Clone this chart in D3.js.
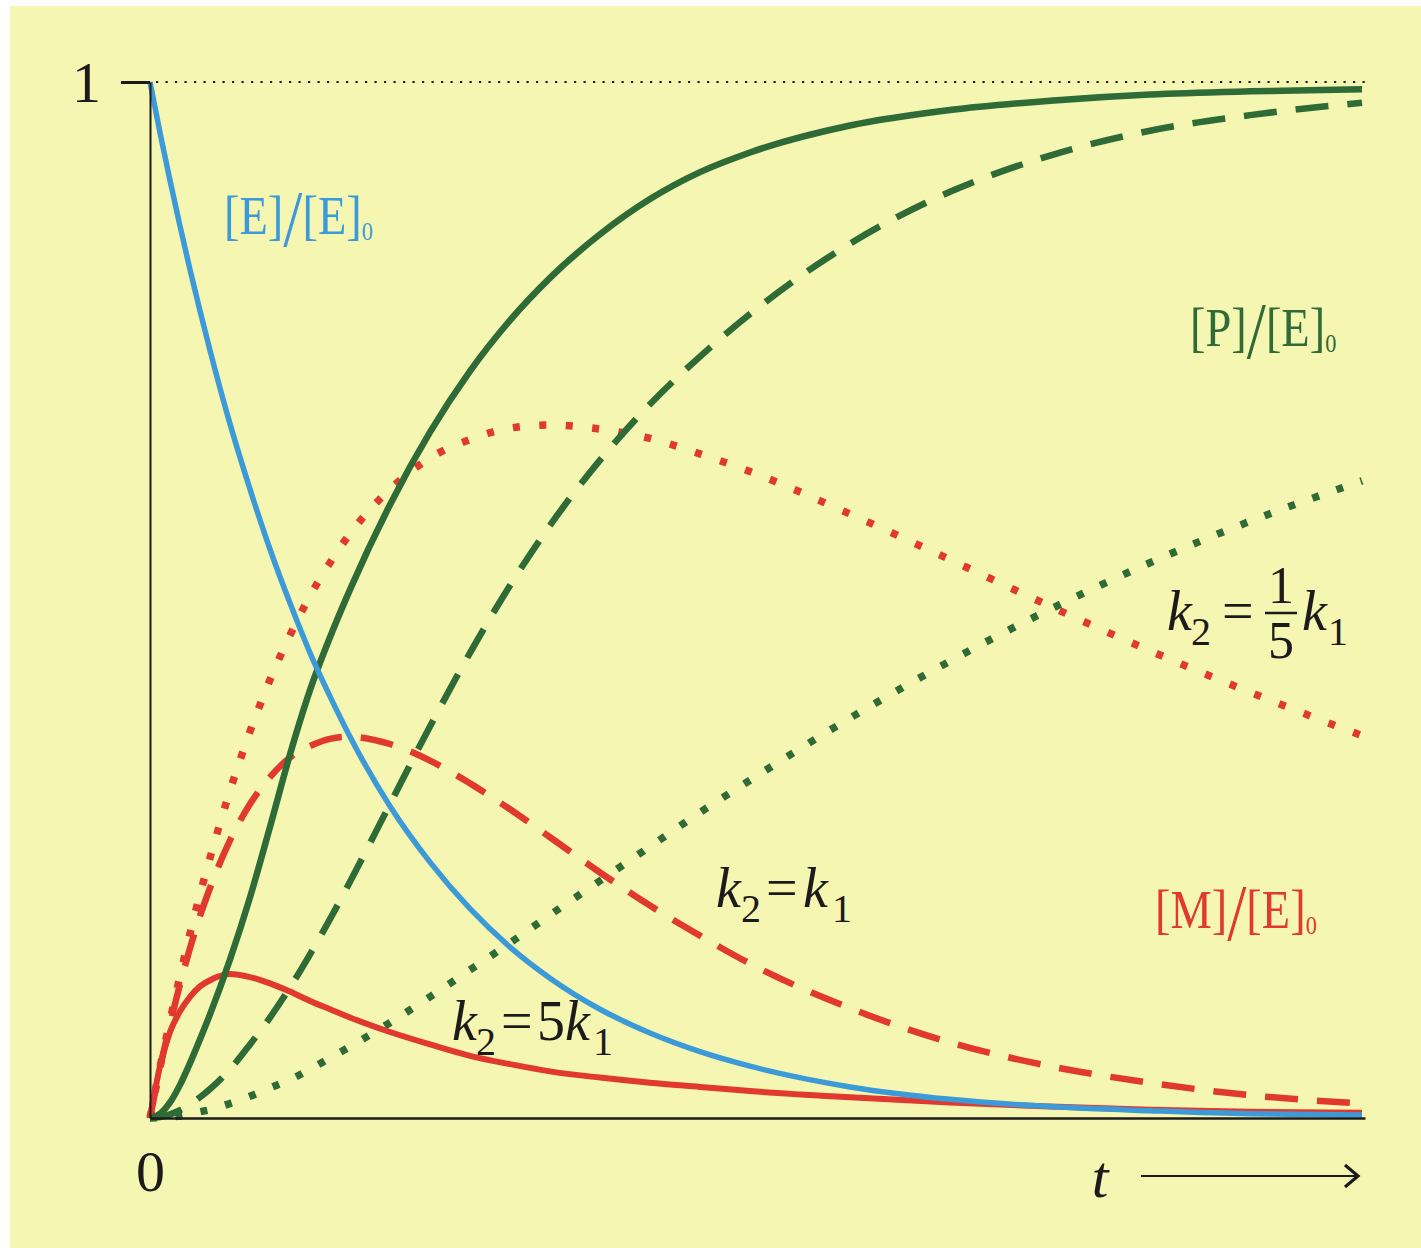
<!DOCTYPE html>
<html>
<head>
<meta charset="utf-8">
<script src="https://cdn.jsdelivr.net/npm/d3@7"></script>
<style>
  html, body { margin: 0; padding: 0; background: #ffffff; }
  svg { display: block; }
  text { font-family: "Liberation Serif", "DejaVu Serif", serif; }
</style>
</head>
<body>
<svg id="chart" width="1421" height="1248"></svg>
<script>
// Consecutive reaction E -> M -> P, concentrations relative to [E]0 over time t

const tValues   = [0, 0.05, 0.1, 0.15, 0.2, 0.25, 0.3, 0.4, 0.5, 0.6, 0.7, 0.8, 0.9, 1.0, 1.2, 1.4, 1.6, 1.8, 2.0, 2.25, 2.5, 2.75, 3.0, 3.5, 4.0, 4.5, 5.0, 5.5, 6.06];

// [E]/[E]0
const enzyme    = [1, 0.951, 0.905, 0.861, 0.819, 0.779, 0.741, 0.670, 0.607, 0.549, 0.497, 0.449, 0.407, 0.368, 0.301, 0.247, 0.202, 0.165, 0.135, 0.105, 0.082, 0.064, 0.050, 0.030, 0.018, 0.011, 0.007, 0.004, 0.003];

// [M]/[E]0 for k2 = 5k1, k2 = k1, k2 = k1/5
const midFast   = [0, 0.050, 0.083, 0.103, 0.117, 0.127, 0.133, 0.139, 0.136, 0.130, 0.122, 0.113, 0.105, 0.097, 0.083, 0.071, 0.060, 0.052, 0.045, 0.039, 0.034, 0.030, 0.026, 0.020, 0.015, 0.011, 0.008, 0.006, 0.005];
const midEqual  = [0, 0.048, 0.090, 0.129, 0.164, 0.195, 0.222, 0.268, 0.303, 0.329, 0.348, 0.359, 0.366, 0.368, 0.361, 0.345, 0.323, 0.298, 0.271, 0.237, 0.205, 0.176, 0.149, 0.106, 0.073, 0.050, 0.034, 0.022, 0.014];
const midSlow   = [0, 0.049, 0.094, 0.137, 0.178, 0.216, 0.251, 0.316, 0.373, 0.423, 0.466, 0.504, 0.536, 0.564, 0.607, 0.637, 0.655, 0.666, 0.669, 0.665, 0.656, 0.641, 0.624, 0.583, 0.539, 0.494, 0.451, 0.411, 0.369];

// [P]/[E]0 for k2 = 5k1, k2 = k1, k2 = k1/5
const prodFast  = [0, 0.004, 0.015, 0.032, 0.053, 0.076, 0.100, 0.153, 0.213, 0.281, 0.351, 0.413, 0.464, 0.510, 0.592, 0.662, 0.721, 0.770, 0.811, 0.853, 0.887, 0.913, 0.932, 0.958, 0.973, 0.982, 0.988, 0.991, 0.993];
const prodEqual = [0, 0.001, 0.0035, 0.0075, 0.013, 0.020, 0.028, 0.047, 0.071, 0.097, 0.126, 0.158, 0.192, 0.228, 0.303, 0.378, 0.449, 0.514, 0.572, 0.635, 0.689, 0.735, 0.776, 0.844, 0.894, 0.929, 0.953, 0.968, 0.980];
const prodSlow  = [0, 0.0003, 0.001, 0.002, 0.004, 0.006, 0.008, 0.014, 0.021, 0.029, 0.037, 0.047, 0.058, 0.069, 0.092, 0.117, 0.143, 0.169, 0.196, 0.229, 0.262, 0.295, 0.326, 0.386, 0.441, 0.491, 0.536, 0.576, 0.615];

const tMax = 6.075;

const BLUE = "#3c9ad8", GREEN = "#2f6b37", RED = "#e1382f", INK = "#1c1a1a";

const series = [
  { values: midSlow,   color: RED,   width: 7.5, dash: "7,19.5" },
  { values: prodSlow,  color: GREEN, width: 7.5, dash: "7,18.5" },
  { values: midEqual,  color: RED,   width: 6.5, dash: "33,19" },
  { values: prodEqual, color: GREEN, width: 6.5, dash: "33,19" },
  { values: midFast,   color: RED,   width: 6, dash: null },
  { values: prodFast,  color: GREEN, width: 6.5, dash: null },
  { values: enzyme,    color: BLUE,  width: 5.5, dash: null }
];

const svg = d3.select("#chart");

// panel background
svg.append("rect")
  .attr("x", 10).attr("y", 6)
  .attr("width", 1411).attr("height", 1242)
  .attr("fill", "#f5f6b2");

const x = d3.scaleLinear().domain([0, tMax]).range([150, 1365]);
const y = d3.scaleLinear().domain([0, 1]).range([1118, 82]);

// limit line at 1
svg.append("line")
  .attr("x1", x(0) + 6).attr("x2", 1372)
  .attr("y1", y(1)).attr("y2", y(1))
  .attr("stroke", INK).attr("stroke-width", 2.2)
  .attr("stroke-dasharray", "2.2,7.3");

// curves
const line = d3.line()
  .x((d, i) => x(tValues[i]))
  .y(d => y(d))
  .curve(d3.curveMonotoneX);

svg.append("g").selectAll("path")
  .data(series)
  .join("path")
  .attr("d", s => line(s.values))
  .attr("fill", "none")
  .attr("stroke", s => s.color)
  .attr("stroke-width", s => s.width)
  .attr("stroke-dasharray", s => s.dash)
  .attr("stroke-linecap", "butt")
  .attr("stroke-linejoin", "round");

// y axis with the single tick at 1
const yAxis = svg.append("g")
  .attr("transform", `translate(${x(0)},0)`)
  .call(d3.axisLeft(y).tickValues([1]).tickSize(29).tickSizeOuter(0).tickPadding(20).tickFormat(d3.format("d")));
yAxis.select(".domain").attr("stroke", INK).attr("stroke-width", 2);
yAxis.selectAll(".tick line").attr("stroke", INK).attr("stroke-width", 3);
yAxis.selectAll(".tick text")
  .attr("font-family", "Liberation Serif, serif")
  .attr("font-size", 58).attr("fill", INK)
  .attr("dy", "0.34em");

// x axis with the origin label
const xAxis = svg.append("g")
  .attr("transform", `translate(0,${y(0)})`)
  .call(d3.axisBottom(x).tickValues([0]).tickSize(0).tickSizeOuter(0).tickPadding(32).tickFormat(d3.format("d")));
xAxis.select(".domain").attr("stroke", INK).attr("stroke-width", 2.5);
xAxis.selectAll(".tick text")
  .attr("font-family", "Liberation Serif, serif")
  .attr("font-size", 58).attr("fill", INK);

// time label and arrow
svg.append("text")
  .attr("x", 1100).attr("y", 1197)
  .attr("text-anchor", "middle")
  .attr("font-size", 60).attr("font-style", "italic").attr("fill", INK)
  .text("t");
svg.append("line")
  .attr("x1", 1141).attr("x2", 1356)
  .attr("y1", 1176).attr("y2", 1176)
  .attr("stroke", INK).attr("stroke-width", 2.2);
svg.append("path")
  .attr("d", "M1345,1165 L1358,1176 L1345,1187")
  .attr("fill", "none").attr("stroke", INK).attr("stroke-width", 3.2)
  .attr("stroke-linejoin", "miter");

// concentration labels: [X]/[E]0
function ratioLabel(px, py, head, color) {
  const t = svg.append("text")
    .attr("transform", `translate(${px},${py}) scale(0.86,1)`)
    .attr("fill", color).attr("font-size", 54);
  t.append("tspan").text(`[${head}]`);
  t.append("tspan").attr("font-size", 80).attr("dy", 12).text("/");
  t.append("tspan").attr("font-size", 54).attr("dy", -12).text("[E]");
  t.append("tspan").attr("font-size", 26).attr("dy", 6).text("0");
}
ratioLabel(224, 234, "E", BLUE);
ratioLabel(1190, 346, "P", GREEN);
ratioLabel(1155, 928, "M", RED);

// rate-constant labels
function kLabel(parts, py) {
  const t = svg.append("text").attr("y", py).attr("fill", INK).attr("font-size", 56);
  parts.forEach(p => {
    const s = t.append("tspan").attr("x", p.x).attr("y", py + (p.sub ? 15 : 0)).text(p.s);
    if (p.it) s.attr("font-style", "italic");
    if (p.sub) s.attr("font-size", 40);
  });
}
kLabel([
  { s: "k", x: 452, it: true },
  { s: "2", x: 476, sub: true },
  { s: "=", x: 501 },
  { s: "5", x: 537 },
  { s: "k", x: 565, it: true },
  { s: "1", x: 593, sub: true }
], 1040);
kLabel([
  { s: "k", x: 716, it: true },
  { s: "2", x: 741, sub: true },
  { s: "=", x: 766 },
  { s: "k", x: 803, it: true },
  { s: "1", x: 832, sub: true }
], 907);
kLabel([
  { s: "k", x: 1167, it: true },
  { s: "2", x: 1191, sub: true },
  { s: "=", x: 1222 },
  { s: "k", x: 1302, it: true },
  { s: "1", x: 1328, sub: true }
], 630);
// fraction 1/5
svg.append("text").attr("x", 1281).attr("y", 603).attr("text-anchor", "middle")
  .attr("font-size", 52).attr("fill", INK).text("1");
svg.append("text").attr("x", 1281).attr("y", 658).attr("text-anchor", "middle")
  .attr("font-size", 52).attr("fill", INK).text("5");
svg.append("line").attr("x1", 1265).attr("x2", 1297).attr("y1", 613).attr("y2", 613)
  .attr("stroke", INK).attr("stroke-width", 2.5);
</script>
</body>
</html>
